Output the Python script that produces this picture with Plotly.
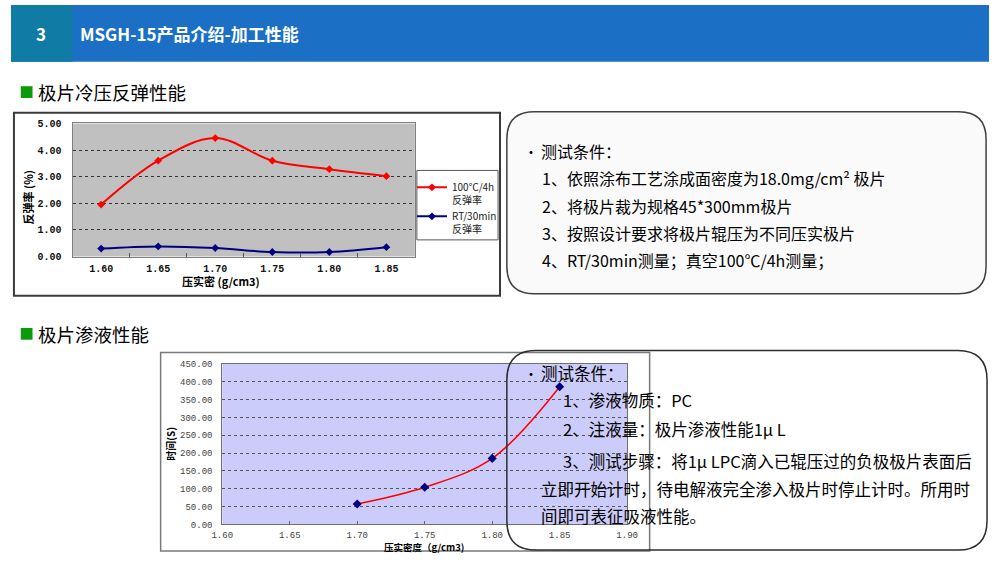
import plotly.graph_objects as go

# ---------------- data ----------------
density_1 = ["1.60", "1.65", "1.70", "1.75", "1.80", "1.85"]
rebound_100c_4h = [1.95, 3.60, 4.45, 3.60, 3.28, 3.02]
rebound_rt_30min = [0.30, 0.38, 0.32, 0.17, 0.17, 0.35]

density_2 = [1.70, 1.75, 1.80, 1.85]
wetting_time_s = [57, 104, 185, 386]

W, H = 1000, 562
CJK = "Noto Sans CJK SC"


def px(x):
    return x / W


def py(y):
    return 1 - y / H


def rounded_path(x0, y0, x1, y1, r):
    rx, ry = r / W, r / H
    X0, X1 = px(x0), px(x1)
    Y0, Y1 = py(y0), py(y1)  # Y0 top, Y1 bottom (paper)
    return (f"M{X0+rx},{Y0} L{X1-rx},{Y0} Q{X1},{Y0} {X1},{Y0-ry} "
            f"L{X1},{Y1+ry} Q{X1},{Y1} {X1-rx},{Y1} L{X0+rx},{Y1} "
            f"Q{X0},{Y1} {X0},{Y1+ry} L{X0},{Y0-ry} Q{X0},{Y0} {X0+rx},{Y0} Z")


fig = go.Figure()

fig.add_trace(go.Scatter(
    x=density_1, y=rebound_100c_4h, name="100℃/4h<br>反弹率",
    mode="lines+markers", line=dict(color="#FF0000", width=2, shape="spline"),
    marker=dict(symbol="diamond", size=6, color="#FF0000"),
    xaxis="x", yaxis="y"))
fig.add_trace(go.Scatter(
    x=density_1, y=rebound_rt_30min, name="RT/30min<br>反弹率",
    mode="lines+markers", line=dict(color="#000080", width=2, shape="spline"),
    marker=dict(symbol="diamond", size=6, color="#000080"),
    xaxis="x", yaxis="y"))
fig.add_trace(go.Scatter(
    x=density_2, y=wetting_time_s, name="时间",
    mode="lines+markers", line=dict(color="#FF0000", width=1.5, shape="spline"),
    marker=dict(symbol="diamond", size=7, color="#000080"),
    xaxis="x2", yaxis="y2", showlegend=False))

shapes = []
# header
shapes.append(dict(type="rect", xref="paper", yref="paper", x0=0, x1=1, y0=py(58), y1=1,
                   fillcolor="#1B6FC5", line=dict(width=0), layer="below"))
shapes.append(dict(type="rect", xref="paper", yref="paper", x0=0, x1=px(63), y0=py(58), y1=1,
                   fillcolor="#107CA6", line=dict(width=0), layer="below"))
# green squares
for yc in (89, 336):
    shapes.append(dict(type="rect", xref="paper", yref="paper", x0=px(10), x1=px(22),
                       y0=py(yc + 6), y1=py(yc - 6), fillcolor="#0A9A0A",
                       line=dict(width=0), layer="below"))
# chart 1 frame
shapes.append(dict(type="rect", xref="paper", yref="paper", x0=px(3), x1=px(500),
                   y0=py(297), y1=py(110), fillcolor="white",
                   line=dict(color="#3A3A3A", width=2), layer="below"))
# chart 1 legend box
shapes.append(dict(type="rect", xref="paper", yref="paper", x0=px(415), x1=px(498),
                   y0=py(240), y1=py(169), fillcolor="white",
                   line=dict(color="#555555", width=1), layer="below"))
# chart 2 frame
shapes.append(dict(type="rect", xref="paper", yref="paper", x0=px(153), x1=px(653),
                   y0=py(558), y1=py(355), fillcolor="white",
                   line=dict(color="#7A7A7A", width=1.5), layer="below"))
# text box 1
shapes.append(dict(type="path", xref="paper", yref="paper",
                   path=rounded_path(507, 109, 997, 295, 28),
                   fillcolor="#FAFAFA", line=dict(color="#404040", width=1.5), layer="below"))
# plot area fills
shapes.append(dict(type="rect", xref="x domain", yref="y domain", x0=0, x1=1, y0=0, y1=1,
                   fillcolor="#C0C0C0", line=dict(width=0), layer="below"))
shapes.append(dict(type="rect", xref="x2 domain", yref="y2 domain", x0=0, x1=1, y0=0, y1=1,
                   fillcolor="#CCCCFA", line=dict(width=0), layer="below"))
# text box 2 (transparent, above chart)
shapes.append(dict(type="path", xref="paper", yref="paper",
                   path=rounded_path(507, 353, 998, 557, 30),
                   fillcolor="rgba(0,0,0,0)", line=dict(color="#2E2E2E", width=1.5), layer="above"))

ann = []


def text(x, y, s, size=16, color="black", bold=False, anchor="left", angle=0, family=CJK):
    ann.append(dict(x=px(x), y=py(y), xref="paper", yref="paper", text=s, showarrow=False,
                    xanchor=anchor, yanchor="middle", textangle=angle,
                    font=dict(family=family, size=size, color=color,
                              weight="bold" if bold else "normal")))


# header text
text(31, 29, "3", size=17, color="white", bold=True, anchor="center")
text(69, 29, "MSGH-15产品介绍-加工性能", size=17, color="white", bold=True)
# section headings
text(26, 89, "极片冷压反弹性能", size=18.5)
text(26, 336, "极片渗液性能", size=18.5)

# axis titles chart 1
text(17, 197, "反弹率 (%)", size=11, bold=True, anchor="center", angle=-90)
text(215, 282, "压实密 (g/cm3)", size=11, bold=True, anchor="center")
# axis titles chart 2
text(163, 448, "时间(S)", size=10, bold=True, anchor="center", angle=-90)
text(422, 554, "压实密度（g/cm3)", size=9.5, bold=True, anchor="center")

# text box 1
text(523, 149, "•", size=14)
text(540, 149, "测试条件：", size=16)
box1 = ["1、依照涂布工艺涂成面密度为18.0mg/cm² 极片",
        "2、将极片裁为规格45*300mm极片",
        "3、按照设计要求将极片辊压为不同压实极片",
        "4、RT/30min测量；真空100℃/4h测量；"]
for i, s in enumerate(box1):
    text(541, 177 + i * 28, s, size=16)

# text box 2
text(523, 376, "•", size=14)
text(540, 376, "测试条件：", size=16.5)
text(562, 404, "1、渗液物质：PC", size=16.5)
text(562, 433, "2、注液量：极片渗液性能1μ L", size=16.5)
text(562, 466, "3、测试步骤：将1μ LPC滴入已辊压过的负极极片表面后", size=16.5)
text(540, 495, "立即开始计时，待电解液完全渗入极片时停止计时。所用时", size=16.5)
text(540, 522, "间即可表征吸液性能。", size=16.5)

tick1 = dict(family="Liberation Mono", size=10, color="#111", weight="bold")
tick2 = dict(family="Liberation Mono", size=9, color="#444")

fig.update_layout(
    autosize=True, margin=dict(l=0, r=0, t=0, b=0, pad=0),
    paper_bgcolor="white", plot_bgcolor="rgba(0,0,0,0)",
    shapes=shapes, annotations=ann,
    showlegend=True,
    legend=dict(x=px(410), y=py(173), xanchor="left", yanchor="top",
                bgcolor="rgba(0,0,0,0)", borderwidth=0, valign="top",
                font=dict(family=CJK, size=10, color="#222"),
                tracegroupgap=0, itemwidth=30),
    xaxis=dict(domain=[px(63), px(413)], anchor="y", type="category",
               tickson="boundaries", ticks="inside", ticklen=4, tickcolor="#555",
               showline=True, mirror=True, linecolor="#808080", linewidth=1,
               showgrid=False, tickfont=tick1, ticklabelstandoff=2,
               range=[-0.5, 5.5], fixedrange=True),
    yaxis=dict(domain=[py(257), py(121)], anchor="x", range=[0, 5], dtick=1,
               tickformat=".2f", showgrid=True, gridcolor="#333", griddash="dot",
               gridwidth=1, zeroline=False, showline=True, mirror=True,
               linecolor="#808080", linewidth=1, ticks="", tickfont=tick1,
               ticklabelstandoff=8),
    xaxis2=dict(domain=[px(216), px(630)], anchor="y2", range=[1.60, 1.90], dtick=0.05,
                tick0=1.60, tickformat=".2f", ticks="inside", ticklen=3, tickcolor="#666",
                showline=True, mirror=True, linecolor="#707070", linewidth=1,
                showgrid=False, zeroline=False, tickfont=tick2, ticklabelstandoff=2),
    yaxis2=dict(domain=[py(530.7), py(366.7)], anchor="x2", range=[0, 450], dtick=50,
                tickformat=".2f", showgrid=True, gridcolor="#555", griddash="dot",
                gridwidth=1, zeroline=False, showline=True, mirror=True,
                linecolor="#707070", linewidth=1, ticks="", tickfont=tick2,
                ticklabelstandoff=7),
)

fig.write_html("out.html", default_width="100vw", default_height="100vh",
               config={"displayModeBar": False, "responsive": True})

# remove default page margins so the figure fills the window exactly
with open("out.html", "r", encoding="utf-8") as f:
    html = f.read()
html = html.replace(
    "<head>",
    "<head><style>html,body{margin:0;padding:0;overflow:hidden;width:100%;height:100%;}</style>",
    1)
with open("out.html", "w", encoding="utf-8") as f:
    f.write(html)
